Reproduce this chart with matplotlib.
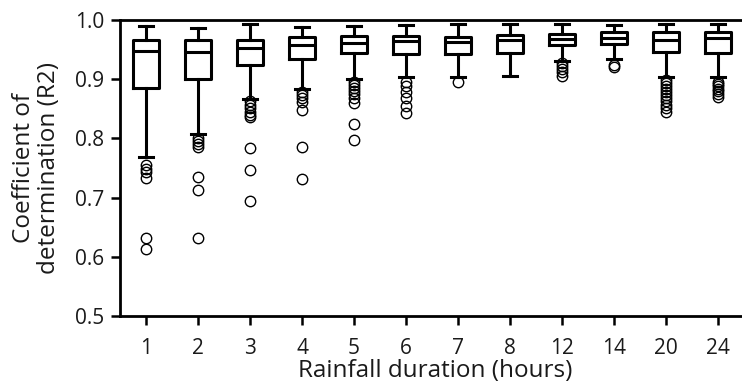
import matplotlib
matplotlib.use("Agg")
import matplotlib.pyplot as plt

# Rainfall durations (hours) and the R2 distribution summary for each one
durations = ["1", "2", "3", "4", "5", "6", "7", "8", "12", "14", "20", "24"]
whisker_low = [0.769, 0.807, 0.867, 0.883, 0.900, 0.903, 0.904, 0.905, 0.931, 0.934, 0.904, 0.903]
q1 = [0.885, 0.900, 0.924, 0.934, 0.944, 0.942, 0.942, 0.944, 0.958, 0.959, 0.946, 0.945]
median = [0.948, 0.946, 0.953, 0.957, 0.961, 0.965, 0.963, 0.966, 0.968, 0.970, 0.967, 0.969]
q3 = [0.966, 0.966, 0.966, 0.971, 0.973, 0.973, 0.972, 0.975, 0.977, 0.979, 0.979, 0.979]
whisker_high = [0.990, 0.986, 0.993, 0.988, 0.990, 0.992, 0.993, 0.993, 0.994, 0.992, 0.993, 0.993]
outliers = [
    [0.755, 0.749, 0.744, 0.733, 0.632, 0.613],
    [0.800, 0.795, 0.790, 0.785, 0.734, 0.712, 0.631],
    [0.863, 0.857, 0.851, 0.845, 0.840, 0.836, 0.783, 0.747, 0.694],
    [0.878, 0.873, 0.868, 0.862, 0.848, 0.786, 0.731],
    [0.896, 0.890, 0.885, 0.880, 0.875, 0.868, 0.859, 0.825, 0.797],
    [0.896, 0.888, 0.879, 0.868, 0.855, 0.843],
    [0.895],
    [],
    [0.928, 0.922, 0.917, 0.912, 0.906],
    [0.924, 0.921],
    [0.899, 0.894, 0.889, 0.884, 0.879, 0.874, 0.869, 0.863, 0.857, 0.851, 0.845],
    [0.896, 0.892, 0.888, 0.884, 0.880, 0.875, 0.870],
]

plt.rcParams["font.family"] = ["Open Sans", "DejaVu Sans"]

stats = []
for i, lab in enumerate(durations):
    stats.append(dict(label=lab, whislo=whisker_low[i], q1=q1[i], med=median[i],
                      q3=q3[i], whishi=whisker_high[i], fliers=outliers[i]))

fig = plt.figure(figsize=(7.42, 3.85), dpi=100)
ax = fig.add_axes([120 / 742, 1 - 316 / 385, 1 - 120 / 742 + 0.01, (316 - 20) / 385])

lw = 2.2
ax.bxp(stats, positions=range(1, len(durations) + 1), widths=0.51, capwidths=0.26,
       patch_artist=False,
       boxprops=dict(color="black", linewidth=lw),
       whiskerprops=dict(color="black", linewidth=lw),
       capprops=dict(color="black", linewidth=lw),
       medianprops=dict(color="black", linewidth=lw),
       flierprops=dict(marker="o", markerfacecolor="none", markeredgecolor="black",
                       markersize=7.5, markeredgewidth=1.0))

ax.set_xlim(0.5, 12.6)
ax.set_ylim(0.5, 1.0)
ax.set_yticks([0.5, 0.6, 0.7, 0.8, 0.9, 1.0])
ax.set_yticklabels(["0.5", "0.6", "0.7", "0.8", "0.9", "1.0"])
ax.set_xticks(range(1, len(durations) + 1))
ax.set_xticklabels(durations)

for side in ("left", "bottom", "top"):
    ax.spines[side].set_linewidth(2.0)
    ax.spines[side].set_color("black")
ax.spines["right"].set_visible(False)

ax.tick_params(axis="both", direction="out", length=6.5, width=1.8, color="black",
               labelsize=15, labelcolor="#1a1a1a")
ax.tick_params(axis="x", pad=9)
ax.tick_params(axis="y", pad=5)

ax.set_xlabel("Rainfall duration (hours)", fontsize=17.5, color="#1a1a1a", labelpad=0.5)
ax.set_ylabel("Coefficient of\ndetermination (R2)", fontsize=17.5, color="#1a1a1a",
              labelpad=10, linespacing=1.03)

fig.savefig("out.png", dpi=100)
